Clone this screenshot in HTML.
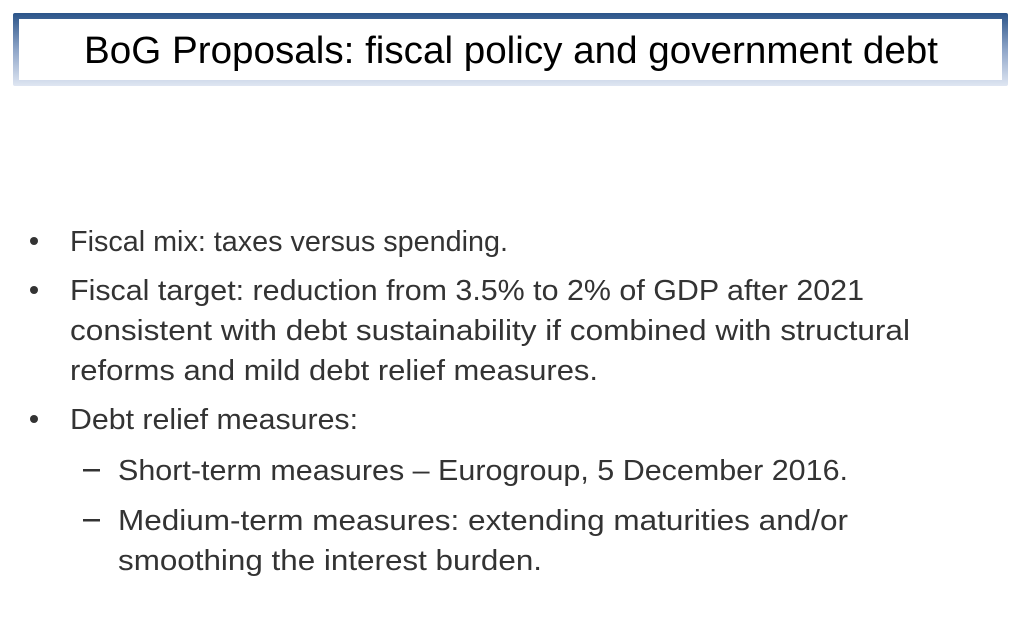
<!DOCTYPE html>
<html><head><meta charset="utf-8"><style>
html,body{margin:0;padding:0;background:#fff;width:1021px;height:632px;overflow:hidden}
svg text{font-family:"Liberation Sans",sans-serif}
</style></head><body>
<svg width="1021" height="632" viewBox="0 0 1021 632">
<defs><linearGradient id="g" x1="0" y1="0" x2="0" y2="1">
<stop offset="0" stop-color="#2b5489"/><stop offset="0.5" stop-color="#8ea5c8"/><stop offset="1" stop-color="#dfe6f2"/></linearGradient></defs>
<g>
<rect x="13" y="13" width="995" height="73" rx="2" fill="url(#g)"/>
<rect x="19" y="19" width="983" height="61" fill="#fff"/>
<text x="84" y="63" font-size="38" fill="#000" textLength="854" lengthAdjust="spacingAndGlyphs">BoG Proposals: fiscal policy and government debt</text>
</g>
<g fill="#333" font-size="29">
<circle cx="34" cy="241" r="4"/>
<text x="70" y="251" textLength="438" lengthAdjust="spacingAndGlyphs">Fiscal mix: taxes versus spending.</text>
<circle cx="34" cy="290" r="4"/>
<text x="70" y="300" textLength="794" lengthAdjust="spacingAndGlyphs">Fiscal target: reduction from 3.5% to 2% of GDP after 2021</text>
<text x="70" y="340" textLength="840" lengthAdjust="spacingAndGlyphs">consistent with debt sustainability if combined with structural</text>
<text x="70" y="380" textLength="528" lengthAdjust="spacingAndGlyphs">reforms and mild debt relief measures.</text>
<circle cx="34" cy="419" r="4"/>
<text x="70" y="429" textLength="288" lengthAdjust="spacingAndGlyphs">Debt relief measures:</text>
<rect x="83" y="469" width="17" height="2.5"/>
<text x="118" y="480" textLength="730" lengthAdjust="spacingAndGlyphs">Short-term measures – Eurogroup, 5 December 2016.</text>
<rect x="83" y="519" width="17" height="2.5"/>
<text x="118" y="530" textLength="730" lengthAdjust="spacingAndGlyphs">Medium-term measures: extending maturities and/or</text>
<text x="118" y="570" textLength="424" lengthAdjust="spacingAndGlyphs">smoothing the interest burden.</text>
</g>
</svg>
</body></html>
